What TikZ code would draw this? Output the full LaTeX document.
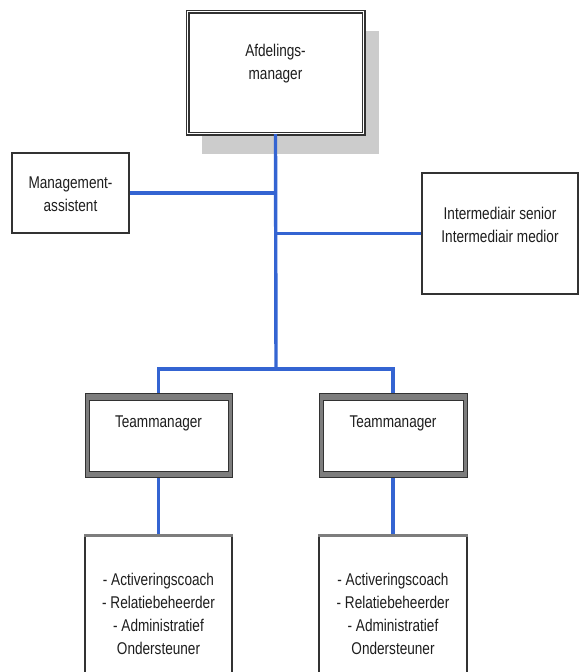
\documentclass[tikz,border=0pt]{standalone}
\usepackage{fontspec}
\setmainfont[FakeStretch=0.8]{Liberation Sans}
\usetikzlibrary{calc}
\definecolor{conblue}{RGB}{52,100,210}
\definecolor{frame}{RGB}{50,50,50}
\definecolor{band}{RGB}{125,125,125}
\definecolor{shadowgray}{RGB}{204,204,204}
\definecolor{txtc}{RGB}{30,30,30}
\tikzset{
  conn/.style={draw=conblue,line width=3.4pt},
  txt/.style={align=center,inner sep=0pt,text=txtc,font={\fontsize{17}{23}\selectfont}},
  plainbox/.style={draw=frame,line width=1.5pt,fill=white,inner sep=0pt},
  dblbox/.style={draw=frame,line width=1.3pt,double=white,double distance=1.4pt,fill=white,inner sep=0pt},
  teambox/.style={draw=frame,line width=1pt,fill=band,inner sep=0pt,
    path picture={
      \draw[fill=white,draw=frame,line width=0.8pt]
        ($(path picture bounding box.north west)+(4,7)$) rectangle
        ($(path picture bounding box.south east)+(-4,-6)$);}},
  staffbox/.style={draw=frame,line width=1.5pt,fill=white,inner sep=0pt}
}
\begin{document}
\begin{tikzpicture}[x=1pt,y=-1pt]
\useasboundingbox (0,0) rectangle (579,672);
\clip (0,0) rectangle (579,672);
\fill[white] (0,0) rectangle (579,672);
% shadow of top box
\fill[shadowgray] (202,31) rectangle (379,154);
% boxes
\node[dblbox,minimum width=176pt,minimum height=122pt] (top) at (275.5,72.5) {};
\node[txt] (topt) at (275.5,63.5) {Afdelings-\\manager};
\node[plainbox,minimum width=117pt,minimum height=80pt] (mg) at (70.5,193) {};
\node[txt] (mgt) at (70.5,194) {Management-\\assistent};
\node[plainbox,minimum width=156pt,minimum height=121pt] (im) at (500,233.5) {};
\node[txt] (imt) at (500,225) {Intermediair senior\\Intermediair medior};
\node[teambox,minimum width=147pt,minimum height=84pt] (tm1) at (158.5,435) {};
\node[txt] (tm1t) at (158.5,423) {Teammanager};
\node[teambox,minimum width=148pt,minimum height=84pt] (tm2) at (393,435) {};
\node[txt] (tm2t) at (393,423) {Teammanager};
\node[staffbox,minimum width=147pt,minimum height=160pt] (st1) at (158.5,615) {};
\node[staffbox,minimum width=148pt,minimum height=160pt] (st2) at (393,615) {};
\draw[band,line width=3pt] ($(st1.north west)+(0,1)$) -- ($(st1.north east)+(0,1)$);
\draw[band,line width=3pt] ($(st2.north west)+(0,1)$) -- ($(st2.north east)+(0,1)$);
\node[txt] (st1t) at (158.5,614) {- Activeringscoach\\- Relatiebeheerder\\- Administratief\\Ondersteuner};
\node[txt] (st2t) at (393,614) {- Activeringscoach\\- Relatiebeheerder\\- Administratief\\Ondersteuner};
% connectors
\coordinate (j) at (276,369);
\draw[conn] (top.south) -- (j);
\draw[conn] (mg.east) -- (mg.east -| j);
\draw[conn] (im.west) -- (im.west -| j);
\draw[conn] (tm1.north) -- (tm1.north |- j) -- (tm2.north |- j) -- (tm2.north);
\draw[conn] (tm1.south) -- (st1.north);
\draw[conn] (tm2.south) -- (st2.north);
\end{tikzpicture}
\end{document}
